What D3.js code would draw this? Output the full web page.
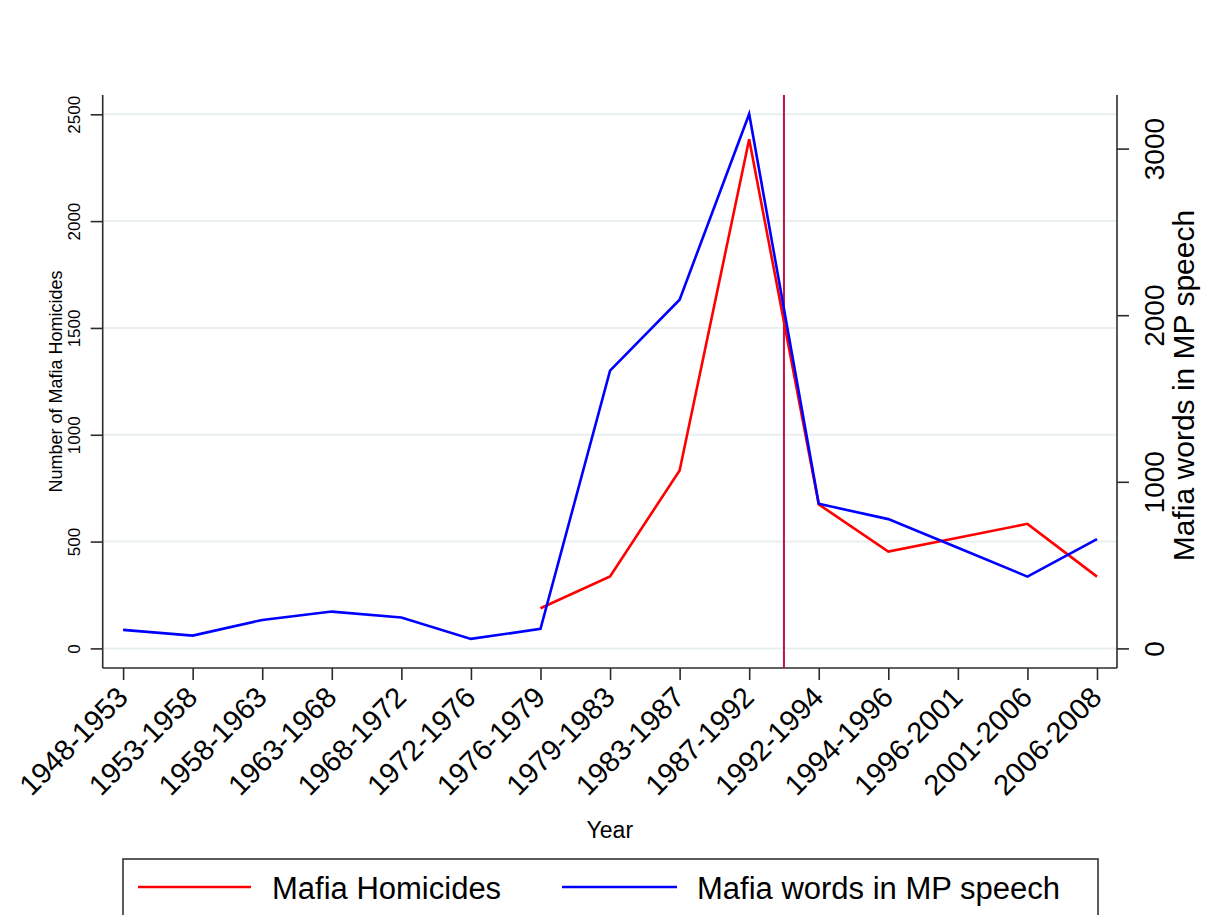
<!DOCTYPE html>
<html>
<head>
<meta charset="utf-8">
<script src="https://cdn.jsdelivr.net/npm/d3@7"></script>
<style>
  html, body { margin: 0; padding: 0; background: #fff; }
  svg { display: block; font-family: "Liberation Sans", Arial, sans-serif; }
</style>
</head>
<body>
<svg id="chart" width="1208" height="915"></svg>
<script>
// Legislative periods on the x axis
const periods = ["1948-1953","1953-1958","1958-1963","1963-1968","1968-1972","1972-1976","1976-1979",
  "1979-1983","1983-1987","1987-1992","1992-1994","1994-1996","1996-2001","2001-2006","2006-2008"];

// Mafia homicides per period (left axis); no data before 1976-1979
const homicides = [null, null, null, null, null, null, 188, 337, 833, 2383, 674, 453, 518, 583, 336];

// Mafia-related words in MP speeches per period (right axis)
const mpWords = [111, 77, 171, 221, 185, 57, 117, 1667, 2093, 3208, 868, 776, 604, 431, 656];

// Tick labels
const leftTicks = [0, 500, 1000, 1500, 2000, 2500];
const rightTicks = [0, 1000, 2000, 3000];

// Reference line drawn between these two periods
const breakBetween = ["1987-1992", "1992-1994"];

const seriesNames = ["Mafia Homicides", "Mafia words in MP speech"];
const seriesColors = ["#ff0000", "#0000ff"];

const svg = d3.select("#chart");

const plot = { left: 102.7, right: 1117, top: 95, bottom: 668 };

const x = d3.scalePoint().domain(periods).range([123.1, 1097]);
const yL = d3.scaleLinear().domain([0, 2500]).range([648.4, 114.3]);
const yR = d3.scaleLinear().domain([0, 3000]).range([648.4, 148.6]);

// Horizontal grid lines at left-axis ticks
svg.append("g")
  .selectAll("line")
  .data(leftTicks)
  .join("line")
  .attr("x1", plot.left).attr("x2", plot.right)
  .attr("y1", d => yL(d)).attr("y2", d => yL(d))
  .attr("stroke", "#e7eff1").attr("stroke-width", 2);

// Axis frame: left, bottom, right
const axisColor = "#2b2b2b";
const frame = svg.append("g").attr("stroke", axisColor).attr("stroke-width", 1.6).attr("fill", "none");
frame.append("line").attr("x1", plot.left).attr("x2", plot.left).attr("y1", plot.top).attr("y2", plot.bottom);
frame.append("line").attr("x1", plot.right).attr("x2", plot.right).attr("y1", plot.top).attr("y2", plot.bottom);
frame.append("line").attr("x1", plot.left).attr("x2", plot.right).attr("y1", plot.bottom).attr("y2", plot.bottom);

function styleAxis(g) {
  g.select(".domain").remove();
  g.selectAll(".tick line").attr("stroke", axisColor).attr("stroke-width", 1.6);
  g.selectAll(".tick text").attr("fill", "#000");
}

// Left axis
svg.append("g")
  .attr("transform", `translate(${plot.left},0)`)
  .call(d3.axisLeft(yL).tickValues(leftTicks).tickSize(12).tickFormat(d3.format("d")))
  .call(styleAxis)
  .call(g => g.selectAll(".tick text")
    .attr("x", null).attr("dy", null)
    .attr("transform", "translate(-23,0) rotate(-90)")
    .attr("text-anchor", "middle")
    .style("font-size", "17px"));

// Right axis
svg.append("g")
  .attr("transform", `translate(${plot.right},0)`)
  .call(d3.axisRight(yR).tickValues(rightTicks).tickSize(12).tickFormat(d3.format("d")))
  .call(styleAxis)
  .call(g => g.selectAll(".tick text")
    .attr("x", null).attr("dy", null)
    .attr("transform", "translate(47,0) rotate(-90)")
    .attr("text-anchor", "middle")
    .style("font-size", "28px"));

// Bottom axis
svg.append("g")
  .attr("transform", `translate(0,${plot.bottom})`)
  .call(d3.axisBottom(x).tickSize(12))
  .call(styleAxis)
  .call(g => g.selectAll(".tick text")
    .attr("y", null).attr("dy", null)
    .attr("transform", "translate(6,31) rotate(-45)")
    .attr("text-anchor", "end")
    .style("font-size", "29px"));

// Axis titles
svg.append("text")
  .attr("transform", `translate(62,${(plot.top + plot.bottom) / 2}) rotate(-90)`)
  .attr("text-anchor", "middle")
  .style("font-size", "18px")
  .text("Number of Mafia Homicides");

svg.append("text")
  .attr("transform", `translate(1194,${(plot.top + plot.bottom) / 2 + 4}) rotate(-90)`)
  .attr("text-anchor", "middle")
  .style("font-size", "30px")
  .text("Mafia words in MP speech");

svg.append("text")
  .attr("x", (plot.left + plot.right) / 2)
  .attr("y", 838)
  .attr("text-anchor", "middle")
  .style("font-size", "23px")
  .text("Year");

// Vertical reference line
const breakX = (x(breakBetween[0]) + x(breakBetween[1])) / 2;
svg.append("line")
  .attr("x1", breakX).attr("x2", breakX)
  .attr("y1", plot.top).attr("y2", plot.bottom)
  .attr("stroke", "#c4123f").attr("stroke-width", 2);

// Series lines
const homLine = d3.line()
  .defined(d => d[1] != null)
  .x(d => x(d[0])).y(d => yL(d[1]));
const wordLine = d3.line()
  .x(d => x(d[0])).y(d => yR(d[1]));

svg.append("path")
  .datum(periods.map((p, i) => [p, homicides[i]]))
  .attr("d", homLine)
  .attr("fill", "none").attr("stroke", seriesColors[0]).attr("stroke-width", 2.6)
  .attr("stroke-linejoin", "miter");

svg.append("path")
  .datum(periods.map((p, i) => [p, mpWords[i]]))
  .attr("d", wordLine)
  .attr("fill", "none").attr("stroke", seriesColors[1]).attr("stroke-width", 2.6)
  .attr("stroke-linejoin", "miter");

// Legend
const legend = svg.append("g");
legend.append("rect")
  .attr("x", 123).attr("y", 859).attr("width", 975).attr("height", 80)
  .attr("fill", "#fff").attr("stroke", "#333").attr("stroke-width", 1.6);

const legendItems = [
  { name: seriesNames[0], color: seriesColors[0], x1: 138, x2: 251, tx: 272 },
  { name: seriesNames[1], color: seriesColors[1], x1: 562, x2: 677, tx: 697 }
];
legendItems.forEach(it => {
  legend.append("line")
    .attr("x1", it.x1).attr("x2", it.x2).attr("y1", 887).attr("y2", 887)
    .attr("stroke", it.color).attr("stroke-width", 2.6);
  legend.append("text")
    .attr("x", it.tx).attr("y", 899)
    .style("font-size", "31px")
    .text(it.name);
});
</script>
</body>
</html>
